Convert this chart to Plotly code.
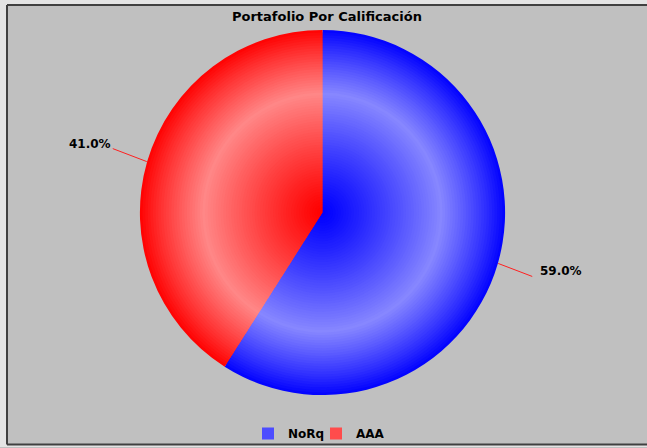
import math
import plotly.graph_objects as go

# ---- data ----
categories = ["NoRq", "AAA"]
values = [59.0, 41.0]
base_colors = [(0, 0, 255), (255, 0, 0)]
title_text = "Portafolio Por Calificación"

W, H = 647, 448
CX, CY, R = 322.5, 213.0, 183.0
FONT = "DejaVu Sans"

def light(t):
    # lightness profile along radius: saturated centre, light ring at ~0.65, saturated rim
    peak, pk = 0.53, 0.65
    if t <= pk:
        return peak * (t / pk) ** 1.15
    return peak * ((1 - t) / (1 - pk)) ** 0.9

def mix(c, a):
    return "rgb(%d,%d,%d)" % tuple(round(v + (255 - v) * a) for v in c)

fig = go.Figure()

N = 70
ring_light = [light(1 - (k + 0.5) / N) for k in range(N)]
legend_ring = min(range(N), key=lambda k: abs(ring_light[k] - 0.3))
for k in range(N):
    r = R * (1 - k / N)
    a = ring_light[k]
    fig.add_trace(go.Pie(
        labels=categories, values=values, sort=False, direction="clockwise", rotation=0,
        marker=dict(colors=[mix(c, a) for c in base_colors], line=dict(width=0)),
        textinfo="none", hoverinfo="skip" if k else "label+percent",
        showlegend=(k == legend_ring),
        domain=dict(x=[(CX - r) / W, (CX + r) / W], y=[1 - (CY + r) / H, 1 - (CY - r) / H]),
    ))

# frame (right side open, as in the reference)
DARK = "#404040"
XE = W + 30
shapes = [
    dict(type="rect", xref="x", yref="y", x0=-30, y0=-30, x1=XE, y1=H + 30, fillcolor="#e4e4e4",
         line=dict(width=0), layer="below"),
    dict(type="rect", xref="x", yref="y", x0=7, y0=5, x1=XE, y1=445.5, fillcolor="#c0c0c0",
         line=dict(width=0), layer="below"),
    dict(type="line", xref="x", yref="y", x0=7, y0=5, x1=XE, y1=5, line=dict(color=DARK, width=2), layer="below"),
    dict(type="line", xref="x", yref="y", x0=7, y0=5, x1=7, y1=445.5, line=dict(color=DARK, width=2), layer="below"),
    dict(type="line", xref="x", yref="y", x0=7, y0=445.5, x1=XE, y1=445.5, line=dict(color=DARK, width=2), layer="below"),
]

# labels with leader lines
total = sum(values)
annotations = []
cum = 0.0
for cat, v in zip(categories, values):
    mid = (cum + v / 2) / total * 2 * math.pi
    cum += v
    s, c = math.sin(mid), math.cos(mid)
    x0, y0 = CX + R * s, CY - R * c
    sx = 1 if s >= 0 else -1
    sy = 1 if c >= 0 else -1
    x1, y1 = x0 + 34 * sx, y0 - 13 * sy
    shapes.append(dict(type="line", xref="x", yref="y", x0=x0, y0=y0, x1=x1, y1=y1,
                       line=dict(color="#ff2020", width=1), layer="above"))
    right = sx > 0
    annotations.append(dict(
        x=x1 + (6 if right else 0), y=y1 - 5, xref="x", yref="y",
        text=f"{v / total * 100:.1f}%", showarrow=False,
        xanchor="left" if right else "right", yanchor="middle",
        font=dict(family=FONT, size=12, color="#000000", weight="bold"),
    ))

annotations.append(dict(
    x=326.5, y=16.5, xref="x", yref="y", text=title_text, showarrow=False,
    xanchor="center", yanchor="middle",
    font=dict(family=FONT, size=13, color="#000000", weight="bold"),
))

fig.update_layout(
    width=W, height=H,
    margin=dict(l=0, r=0, t=0, b=0),
    paper_bgcolor="#c0c0c0", plot_bgcolor="rgba(0,0,0,0)",
    xaxis=dict(range=[0, W], visible=False, fixedrange=True),
    yaxis=dict(range=[H, 0], visible=False, fixedrange=True),
    shapes=shapes, annotations=annotations,
    showlegend=True,
    legend=dict(orientation="h", x=248 / W, xanchor="left", y=1 - 434 / H, yanchor="middle",
                bgcolor="rgba(0,0,0,0)", itemwidth=30, entrywidth=23, entrywidthmode="pixels",
                font=dict(family=FONT, size=12, color="#000000", weight="bold")),
)

fig.write_html("out.html", config={"displayModeBar": False},
               post_script="document.body.style.margin='0';document.body.style.overflow='hidden';")
